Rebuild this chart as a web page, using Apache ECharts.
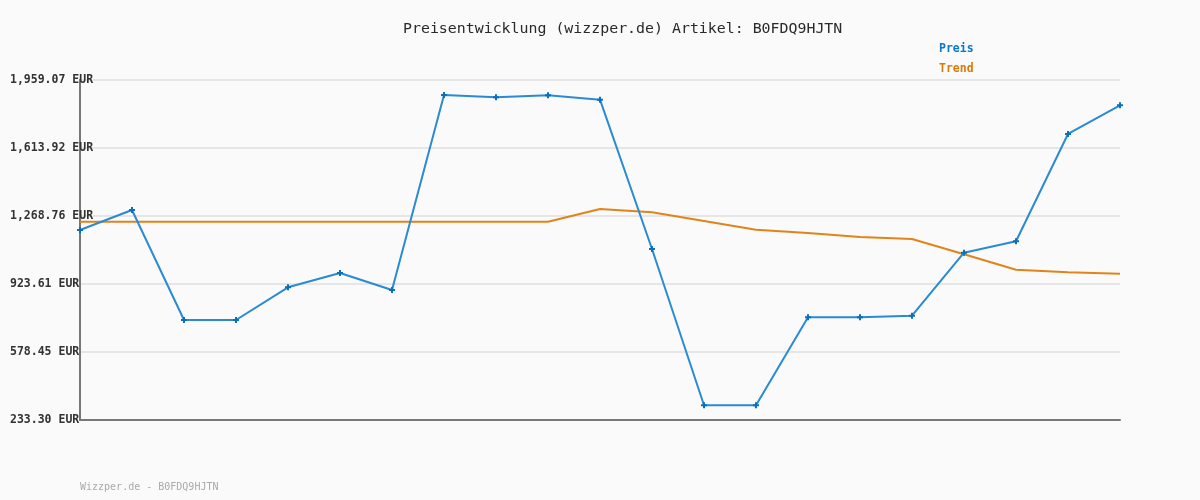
<!DOCTYPE html>
<html>
<head>
<meta charset="utf-8">
<script src="https://cdn.jsdelivr.net/npm/echarts@6/dist/echarts.min.js"></script>
<style>
html,body{margin:0;padding:0;background:#fafafa;}
#chart{width:1200px;height:500px;}
</style>
</head>
<body>
<div id="chart"></div>
<script>
const categories = ["1","2","3","4","5","6","7","8","9","10","11","12","13","14","15","16","17","18","19","20","21"];
const preis = [1196.2, 1297.7, 739.4, 739.4, 905.3, 977.9, 891.6, 1881.4, 1869.7, 1879.9, 1857.6, 1099.7, 306.4, 306.4, 753.1, 753.1, 761.2, 1080.9, 1138.8, 1683.5, 1829.1];
const trend = [1238.3, 1238.3, 1238.3, 1238.3, 1238.3, 1238.3, 1238.3, 1238.3, 1238.3, 1238.3, 1302.8, 1286.0, 1241.9, 1197.7, 1181.0, 1160.7, 1150.5, 1072.8, 994.7, 981.5, 974.4];
const yTicks = [233.30, 578.45, 923.61, 1268.76, 1613.92, 1959.07];
const titleText = "Preisentwicklung (wizzper.de) Artikel: B0FDQ9HJTN";
const footerText = "Wizzper.de - B0FDQ9HJTN";

const mono = "DejaVu Sans Mono";
const fmt = v => v.toLocaleString('en-US', {minimumFractionDigits: 2, maximumFractionDigits: 2}) + ' EUR';

const chart = echarts.init(document.getElementById('chart'), null, {renderer: 'canvas'});
chart.setOption({
  animation: false,
  backgroundColor: '#fafafa',
  title: [
    {text: titleText, left: 403, top: 21, padding: 0,
     textStyle: {fontFamily: mono, fontSize: 14.9, fontWeight: 'normal', color: '#2a2a2a', lineHeight: 16}},
    {text: footerText, left: 80, top: 481, padding: 0,
     textStyle: {fontFamily: mono, fontSize: 10, fontWeight: 'normal', color: '#aaa', lineHeight: 12}}
  ],
  legend: {
    orient: 'vertical', left: 934, top: 39, padding: 0,
    icon: 'none', itemWidth: 0, itemHeight: 14, itemGap: 0,
    textStyle: {fontFamily: mono, fontSize: 11.5, fontWeight: 'bold', lineHeight: 20, height: 20},
    data: [
      {name: 'Preis', textStyle: {color: '#0a78c8'}},
      {name: 'Trend', textStyle: {color: '#d97a0a'}}
    ],
    selectedMode: false
  },
  grid: {left: 80, right: 80, top: 79.7, bottom: 80.3, containLabel: false},
  xAxis: {
    type: 'category', data: categories, boundaryGap: false,
    axisLine: {show: true, lineStyle: {color: '#777', width: 2}},
    axisTick: {show: false}, axisLabel: {show: false}, splitLine: {show: false}
  },
  yAxis: {
    type: 'value', min: yTicks[0], max: yTicks[yTicks.length - 1],
    axisLine: {show: true, lineStyle: {color: '#777', width: 2}},
    axisTick: {show: false, customValues: yTicks},
    axisLabel: {
      customValues: yTicks, formatter: fmt, align: 'left', margin: 70,
      fontFamily: mono, fontSize: 11.5, fontWeight: 'bold', color: '#333'
    },
    splitLine: {show: true, lineStyle: {color: '#e6e6e6', width: 2}}
  },
  series: [
    {
      name: 'Preis', type: 'line', data: preis,
      symbol: 'path://M2,0H4V2H6V4H4V6H2V4H0V2H2Z', symbolSize: 6, showSymbol: true,
      lineStyle: {color: '#2a8ad4', width: 2},
      itemStyle: {color: '#0a6fbf'},
      color: '#0a78c8', z: 3
    },
    {
      name: 'Trend', type: 'line', data: trend,
      symbol: 'none', showSymbol: false,
      lineStyle: {color: '#e0841a', width: 2},
      itemStyle: {color: '#d97a0a'},
      color: '#d97a0a', z: 2
    }
  ]
});
</script>
</body>
</html>
